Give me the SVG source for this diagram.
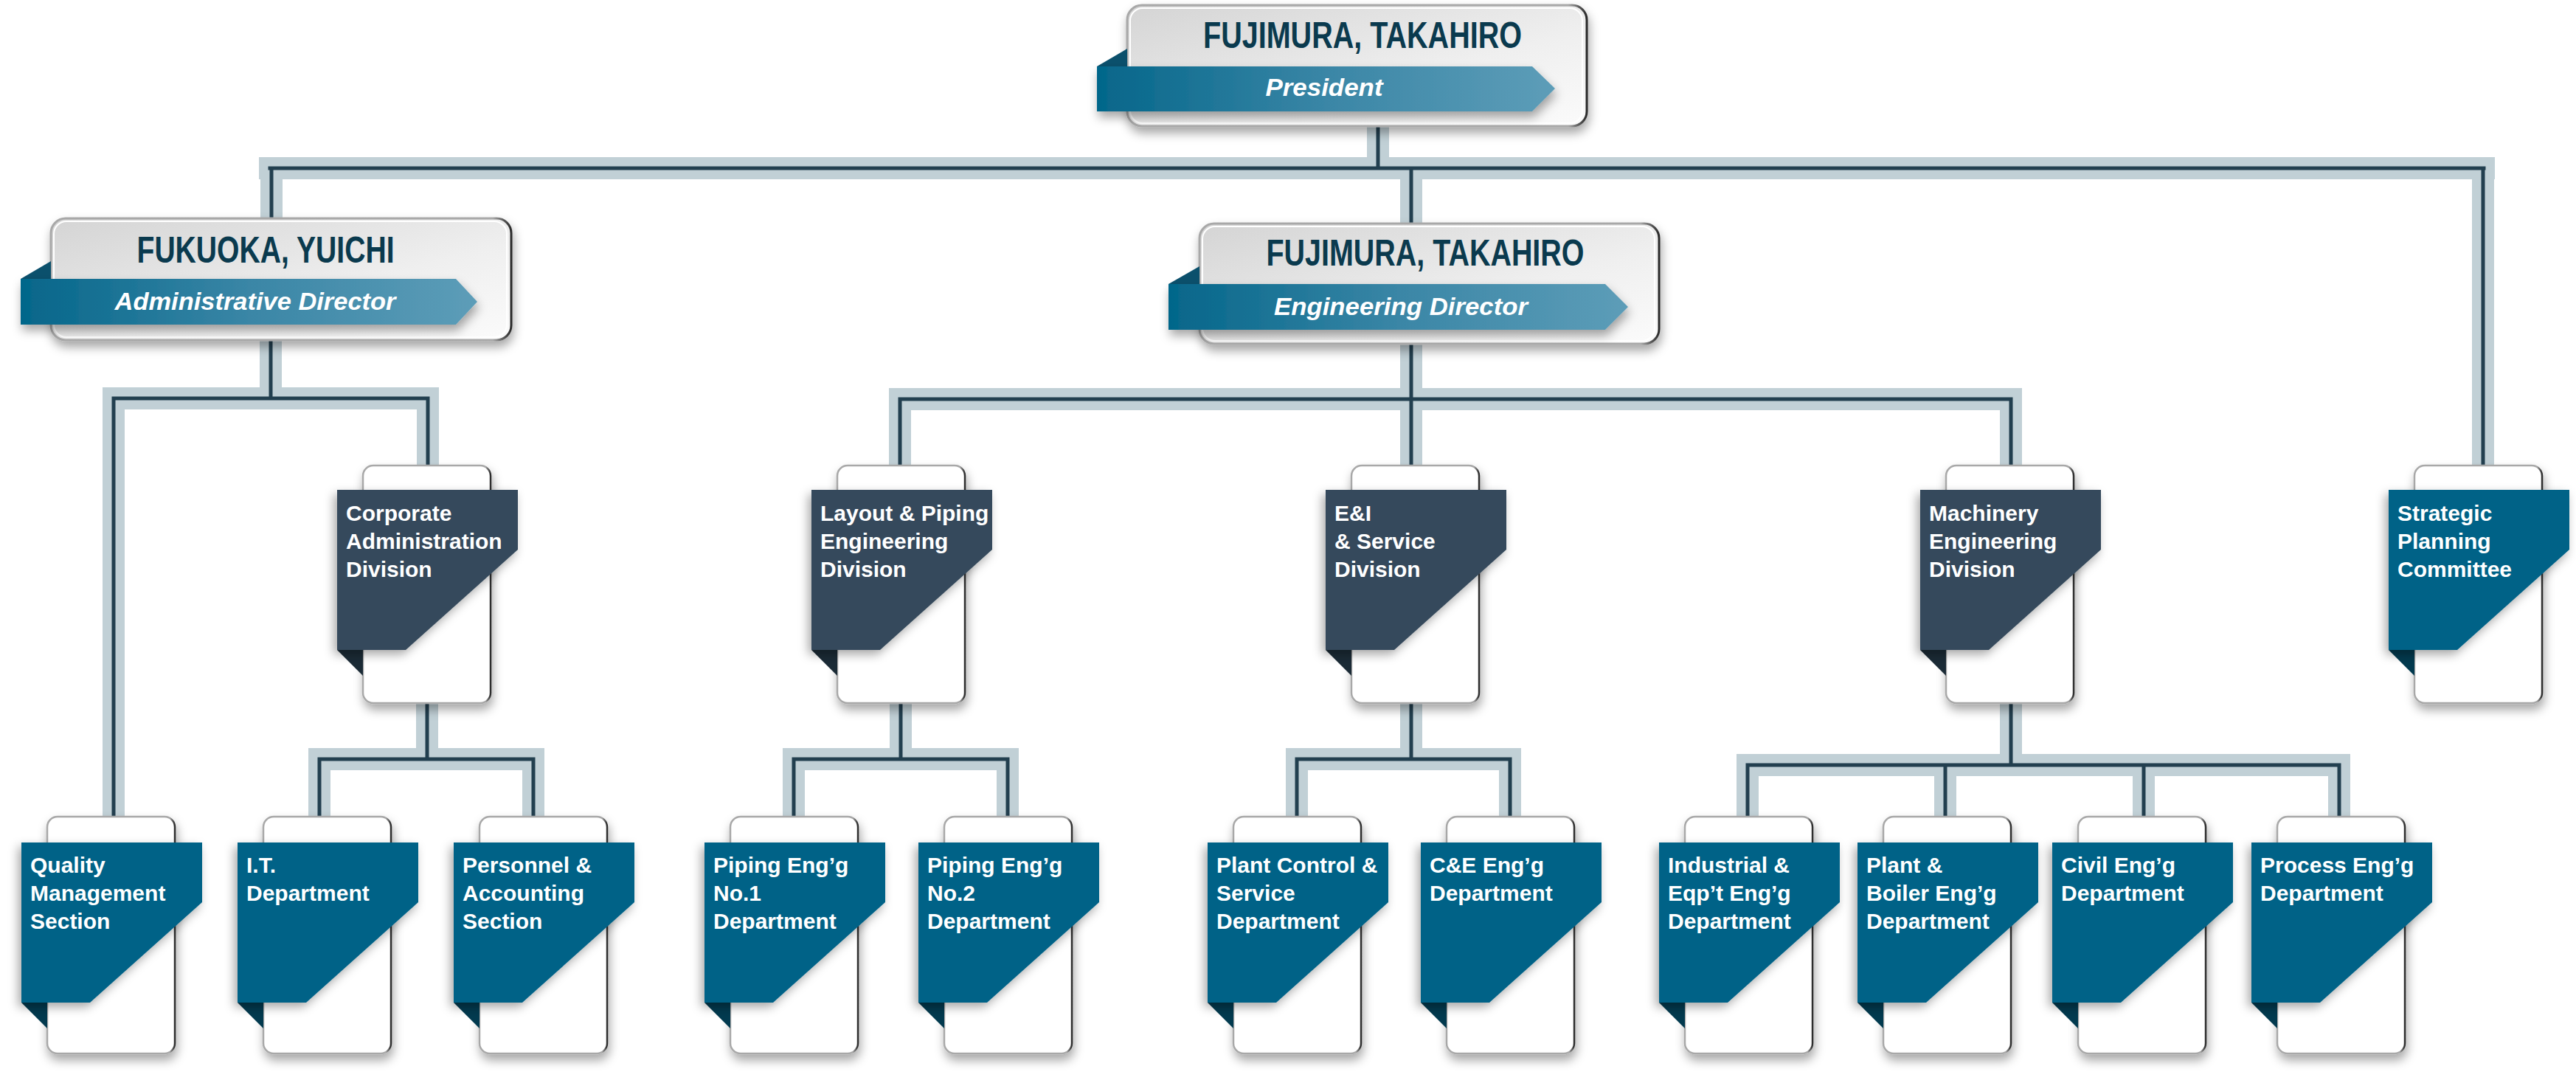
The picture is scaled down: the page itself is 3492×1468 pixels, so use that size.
<svg xmlns="http://www.w3.org/2000/svg" width="3492" height="1468" viewBox="0 0 3492 1468">
<defs>
<linearGradient id="boxg" x1="0" y1="0" x2="1" y2="1"><stop offset="0" stop-color="#d4d4d4"/><stop offset="0.6" stop-color="#efefef"/><stop offset="1" stop-color="#fbfbfb"/></linearGradient>
<linearGradient id="ribg" x1="0" y1="0" x2="1" y2="0"><stop offset="0" stop-color="#04668a"/><stop offset="0.5" stop-color="#3a86a6"/><stop offset="1" stop-color="#5d9db8"/></linearGradient>
<linearGradient id="edge" x1="0" y1="0" x2="1" y2="0"><stop offset="0" stop-color="#a8a8a8"/><stop offset="0.96" stop-color="#a8a8a8"/><stop offset="0.985" stop-color="#555555"/><stop offset="1" stop-color="#2a2a2a"/></linearGradient>
<filter id="sh" x="-20%" y="-20%" width="150%" height="160%"><feDropShadow dx="2" dy="8" stdDeviation="7" flood-color="#000" flood-opacity="0.35"/></filter>
<filter id="shf" x="-20%" y="-20%" width="150%" height="160%"><feDropShadow dx="-4" dy="6" stdDeviation="7" flood-color="#000" flood-opacity="0.35"/></filter>
</defs>
<style>
.band{fill:none;stroke:#c1d0d6;stroke-width:30;stroke-linejoin:miter;stroke-linecap:square}
.line{fill:none;stroke:#223f4f;stroke-width:5;stroke-linejoin:miter;stroke-linecap:square}
.box{fill:url(#boxg);stroke:url(#edge);stroke-width:3}
.boxin{fill:none;stroke:#ffffff;stroke-width:2}
.rib{fill:url(#ribg)}
.ribfold{fill:#0b506c}
.name{font-family:"Liberation Sans",Arial,sans-serif;font-weight:bold;font-size:50px;fill:#0a3a4e;text-anchor:middle}
.role{font-family:"Liberation Sans",Arial,sans-serif;font-weight:bold;font-style:italic;font-size:33px;fill:#ffffff;text-anchor:middle}
.card{fill:#ffffff;stroke:url(#edge);stroke-width:2.5}
.fd{fill:#34495b}
.fdf{fill:#1b2b36}
.ft{fill:#036287}
.ftf{fill:#023a4f}
.lbl{font-family:"Liberation Sans",Arial,sans-serif;font-weight:bold;font-size:30px;fill:#ffffff}
</style>

<g id="connectors">
<path class="band" d="M366,228 H3367 M1868,171 V228 M368,228 V296 M3366,228 V629 M1913,228 V303"/>
<path class="band" d="M154,1107 V540 H580 V631 M367,461 V540"/>
<path class="band" d="M433,1107 V1029 H723 V1107 M579,953 V1029"/>
<path class="band" d="M1220,629 V541 H2726 V629 M1913,465 V629"/>
<path class="band" d="M1076,1107 V1029 H1366 V1107 M1221,953 V1029"/>
<path class="band" d="M1758,1107 V1029 H2047 V1107 M1913,953 V1029"/>
<path class="band" d="M2369,1107 V1037 H3171 V1107 M2637,1037 V1107 M2906,1037 V1107 M2726,953 V1037"/>
<path class="line" d="M366,228 H3367 M1868,171 V228 M368,228 V296 M3366,228 V629 M1913,228 V303"/>
<path class="line" d="M154,1107 V540 H580 V631 M367,461 V540"/>
<path class="line" d="M433,1107 V1029 H723 V1107 M579,953 V1029"/>
<path class="line" d="M1220,629 V541 H2726 V629 M1913,465 V629"/>
<path class="line" d="M1076,1107 V1029 H1366 V1107 M1221,953 V1029"/>
<path class="line" d="M1758,1107 V1029 H2047 V1107 M1913,953 V1029"/>
<path class="line" d="M2369,1107 V1037 H3171 V1107 M2637,1037 V1107 M2906,1037 V1107 M2726,953 V1037"/>
</g>

<g id="president">
<rect class="box" x="1528" y="7" width="623" height="164" rx="20" filter="url(#sh)"/>
<rect class="boxin" x="1532" y="11" width="613" height="156" rx="17"/>
<polygon class="ribfold" points="1487,90 1528,66 1528,90"/>
<polygon class="rib" points="1487,90 2077,90 2108,120 2077,151 1487,151" filter="url(#sh)"/>
<text class="name" x="1847" y="65" textLength="432" lengthAdjust="spacingAndGlyphs">FUJIMURA, TAKAHIRO</text>
<text class="role" x="1795" y="130" textLength="159" lengthAdjust="spacingAndGlyphs">President</text>
</g>

<g id="admin-director">
<rect class="box" x="69" y="296" width="624" height="165" rx="20" filter="url(#sh)"/>
<rect class="boxin" x="73" y="300" width="614" height="157" rx="17"/>
<polygon class="ribfold" points="28,378 69,354 69,378"/>
<polygon class="rib" points="28,378 618,378 647,409 618,440 28,440" filter="url(#sh)"/>
<text class="name" x="360" y="356" textLength="349" lengthAdjust="spacingAndGlyphs">FUKUOKA, YUICHI</text>
<text class="role" x="346" y="420" textLength="381" lengthAdjust="spacingAndGlyphs">Administrative Director</text>
</g>

<g id="engineering-director">
<rect class="box" x="1626" y="303" width="623" height="163" rx="20" filter="url(#sh)"/>
<rect class="boxin" x="1630" y="307" width="613" height="155" rx="17"/>
<polygon class="ribfold" points="1584,385 1626,361 1626,385"/>
<polygon class="rib" points="1584,385 2176,385 2207,416 2176,447 1584,447" filter="url(#sh)"/>
<text class="name" x="1932" y="360" textLength="431" lengthAdjust="spacingAndGlyphs">FUJIMURA, TAKAHIRO</text>
<text class="role" x="1899" y="427" textLength="344" lengthAdjust="spacingAndGlyphs">Engineering Director</text>
</g>

<g id="corporate-admin" transform="translate(457,664)">
<rect class="card" x="35" y="-33" width="173" height="322" rx="14" filter="url(#sh)"/>
<polygon class="fdf" points="0,217 35,217 35,252"/>
<polygon class="fd" points="0,0 245,0 245,81 93,217 0,217" filter="url(#shf)"/>
<text class="lbl" x="12" y="42">Corporate</text><text class="lbl" x="12" y="80">Administration</text><text class="lbl" x="12" y="118">Division</text>
</g>

<g id="layout-piping" transform="translate(1100,664)">
<rect class="card" x="35" y="-33" width="173" height="322" rx="14" filter="url(#sh)"/>
<polygon class="fdf" points="0,217 35,217 35,252"/>
<polygon class="fd" points="0,0 245,0 245,81 93,217 0,217" filter="url(#shf)"/>
<text class="lbl" x="12" y="42">Layout &amp; Piping</text><text class="lbl" x="12" y="80">Engineering</text><text class="lbl" x="12" y="118">Division</text>
</g>

<g id="ei-service" transform="translate(1797,664)">
<rect class="card" x="35" y="-33" width="173" height="322" rx="14" filter="url(#sh)"/>
<polygon class="fdf" points="0,217 35,217 35,252"/>
<polygon class="fd" points="0,0 245,0 245,81 93,217 0,217" filter="url(#shf)"/>
<text class="lbl" x="12" y="42">E&amp;I</text><text class="lbl" x="12" y="80">&amp; Service</text><text class="lbl" x="12" y="118">Division</text>
</g>

<g id="machinery" transform="translate(2603,664)">
<rect class="card" x="35" y="-33" width="173" height="322" rx="14" filter="url(#sh)"/>
<polygon class="fdf" points="0,217 35,217 35,252"/>
<polygon class="fd" points="0,0 245,0 245,81 93,217 0,217" filter="url(#shf)"/>
<text class="lbl" x="12" y="42">Machinery</text><text class="lbl" x="12" y="80">Engineering</text><text class="lbl" x="12" y="118">Division</text>
</g>

<g id="strategic-planning" transform="translate(3238,664)">
<rect class="card" x="35" y="-33" width="173" height="322" rx="14" filter="url(#sh)"/>
<polygon class="ftf" points="0,217 35,217 35,252"/>
<polygon class="ft" points="0,0 245,0 245,81 93,217 0,217" filter="url(#shf)"/>
<text class="lbl" x="12" y="42">Strategic</text><text class="lbl" x="12" y="80">Planning</text><text class="lbl" x="12" y="118">Committee</text>
</g>

<g id="quality" transform="translate(29,1142)">
<rect class="card" x="35" y="-35" width="173" height="321" rx="14" filter="url(#sh)"/>
<polygon class="ftf" points="0,217 35,217 35,252"/>
<polygon class="ft" points="0,0 245,0 245,81 93,217 0,217" filter="url(#shf)"/>
<text class="lbl" x="12" y="41">Quality</text><text class="lbl" x="12" y="79">Management</text><text class="lbl" x="12" y="117">Section</text>
</g>

<g id="it" transform="translate(322,1142)">
<rect class="card" x="35" y="-35" width="173" height="321" rx="14" filter="url(#sh)"/>
<polygon class="ftf" points="0,217 35,217 35,252"/>
<polygon class="ft" points="0,0 245,0 245,81 93,217 0,217" filter="url(#shf)"/>
<text class="lbl" x="12" y="41">I.T.</text><text class="lbl" x="12" y="79">Department</text>
</g>

<g id="personnel" transform="translate(615,1142)">
<rect class="card" x="35" y="-35" width="173" height="321" rx="14" filter="url(#sh)"/>
<polygon class="ftf" points="0,217 35,217 35,252"/>
<polygon class="ft" points="0,0 245,0 245,81 93,217 0,217" filter="url(#shf)"/>
<text class="lbl" x="12" y="41">Personnel &amp;</text><text class="lbl" x="12" y="79">Accounting</text><text class="lbl" x="12" y="117">Section</text>
</g>

<g id="piping1" transform="translate(955,1142)">
<rect class="card" x="35" y="-35" width="173" height="321" rx="14" filter="url(#sh)"/>
<polygon class="ftf" points="0,217 35,217 35,252"/>
<polygon class="ft" points="0,0 245,0 245,81 93,217 0,217" filter="url(#shf)"/>
<text class="lbl" x="12" y="41">Piping Eng’g</text><text class="lbl" x="12" y="79">No.1</text><text class="lbl" x="12" y="117">Department</text>
</g>

<g id="piping2" transform="translate(1245,1142)">
<rect class="card" x="35" y="-35" width="173" height="321" rx="14" filter="url(#sh)"/>
<polygon class="ftf" points="0,217 35,217 35,252"/>
<polygon class="ft" points="0,0 245,0 245,81 93,217 0,217" filter="url(#shf)"/>
<text class="lbl" x="12" y="41">Piping Eng’g</text><text class="lbl" x="12" y="79">No.2</text><text class="lbl" x="12" y="117">Department</text>
</g>

<g id="plant-control" transform="translate(1637,1142)">
<rect class="card" x="35" y="-35" width="173" height="321" rx="14" filter="url(#sh)"/>
<polygon class="ftf" points="0,217 35,217 35,252"/>
<polygon class="ft" points="0,0 245,0 245,81 93,217 0,217" filter="url(#shf)"/>
<text class="lbl" x="12" y="41">Plant Control &amp;</text><text class="lbl" x="12" y="79">Service</text><text class="lbl" x="12" y="117">Department</text>
</g>

<g id="ce" transform="translate(1926,1142)">
<rect class="card" x="35" y="-35" width="173" height="321" rx="14" filter="url(#sh)"/>
<polygon class="ftf" points="0,217 35,217 35,252"/>
<polygon class="ft" points="0,0 245,0 245,81 93,217 0,217" filter="url(#shf)"/>
<text class="lbl" x="12" y="41">C&amp;E Eng’g</text><text class="lbl" x="12" y="79">Department</text>
</g>

<g id="industrial" transform="translate(2249,1142)">
<rect class="card" x="35" y="-35" width="173" height="321" rx="14" filter="url(#sh)"/>
<polygon class="ftf" points="0,217 35,217 35,252"/>
<polygon class="ft" points="0,0 245,0 245,81 93,217 0,217" filter="url(#shf)"/>
<text class="lbl" x="12" y="41">Industrial &amp;</text><text class="lbl" x="12" y="79">Eqp’t Eng’g</text><text class="lbl" x="12" y="117">Department</text>
</g>

<g id="plant-boiler" transform="translate(2518,1142)">
<rect class="card" x="35" y="-35" width="173" height="321" rx="14" filter="url(#sh)"/>
<polygon class="ftf" points="0,217 35,217 35,252"/>
<polygon class="ft" points="0,0 245,0 245,81 93,217 0,217" filter="url(#shf)"/>
<text class="lbl" x="12" y="41">Plant &amp;</text><text class="lbl" x="12" y="79">Boiler Eng’g</text><text class="lbl" x="12" y="117">Department</text>
</g>

<g id="civil" transform="translate(2782,1142)">
<rect class="card" x="35" y="-35" width="173" height="321" rx="14" filter="url(#sh)"/>
<polygon class="ftf" points="0,217 35,217 35,252"/>
<polygon class="ft" points="0,0 245,0 245,81 93,217 0,217" filter="url(#shf)"/>
<text class="lbl" x="12" y="41">Civil Eng’g</text><text class="lbl" x="12" y="79">Department</text>
</g>

<g id="process" transform="translate(3052,1142)">
<rect class="card" x="35" y="-35" width="173" height="321" rx="14" filter="url(#sh)"/>
<polygon class="ftf" points="0,217 35,217 35,252"/>
<polygon class="ft" points="0,0 245,0 245,81 93,217 0,217" filter="url(#shf)"/>
<text class="lbl" x="12" y="41">Process Eng’g</text><text class="lbl" x="12" y="79">Department</text>
</g>
</svg>
